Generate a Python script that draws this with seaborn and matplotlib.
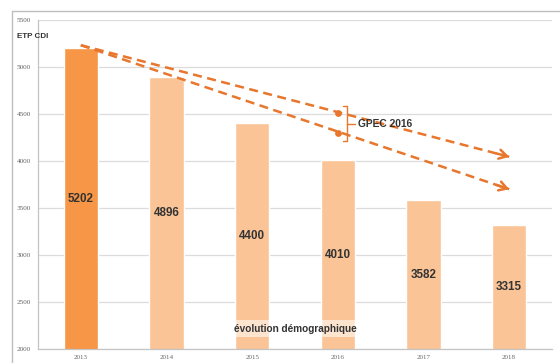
import numpy as np
import pandas as pd
import seaborn as sns
import matplotlib.pyplot as plt
from matplotlib.lines import Line2D

# data
years = ['2013', '2014', '2015', '2016', '2017', '2018']
etp = [5202, 4896, 4400, 4010, 3582, 3315]
bar_colors = ['#F79646', '#FAC496', '#FAC496', '#FAC496', '#FAC496', '#FAC496']

# GPEC 2016 trend lines (start at 2013, end at 2018) and markers at 2016
gpec_start = 5232
gpec_end_high = 4045
gpec_end_low = 3700
gpec_2016 = [4510, 4300]

arrow_c = '#E8762C'
text_c = '#333333'

sns.set_style('white')
plt.rcParams['font.family'] = ['Liberation Sans', 'DejaVu Sans']

df = pd.DataFrame({'year': years, 'etp': etp})

fig = plt.figure(figsize=(5.6, 3.63), dpi=100)
ax = fig.add_axes([38 / 560, 1 - 349 / 363, (552 - 38) / 560, (349 - 20) / 363])

sns.barplot(data=df, x='year', y='etp', hue='year', palette=bar_colors,
            width=0.4, saturation=1, legend=False, ax=ax, zorder=2)

ax.set_ylim(2000, 5500)
ax.set_xlim(-0.5, 5.5)
ax.set_yticks(np.arange(2000, 5501, 500))
ax.grid(axis='y', color='#dcdcdc', lw=0.9, zorder=0)
ax.set_axisbelow(True)
ax.set_xlabel('')
ax.set_ylabel('')

for s in ['top', 'right']:
    ax.spines[s].set_visible(False)
for s in ['left', 'bottom']:
    ax.spines[s].set_color('#c4c4c4')
    ax.spines[s].set_linewidth(0.9)

ax.tick_params(axis='y', length=2, width=0.7, color='#c4c4c4', pad=3,
               labelsize=5.2, labelcolor='#666666')
ax.tick_params(axis='x', which='major', length=0, pad=4,
               labelsize=5, labelcolor='#666666')
ax.set_xticks(np.arange(0.5, 5.6, 1), minor=True)
ax.tick_params(axis='x', which='minor', length=2.5, width=0.7, color='#c4c4c4')
for lab in ax.get_xticklabels() + ax.get_yticklabels():
    lab.set_family('Liberation Serif')

# value labels, centred in the visible part of each bar
for i, v in enumerate(etp):
    ax.text(i, (v + 2000) / 2, str(v), ha='center', va='center',
            fontsize=8.4, fontweight='bold', color=text_c, zorder=5)

# trend arrows
for end in [gpec_end_high, gpec_end_low]:
    ax.plot([0, 5], [gpec_start, end], color=arrow_c, lw=1.8,
            dashes=(3.6, 2.2), zorder=4, solid_capstyle='butt')
    slope = (end - gpec_start) / 5
    ax.annotate('', xy=(5, end), xytext=(4.85, end - 0.15 * slope),
                arrowprops=dict(arrowstyle='->,head_length=0.55,head_width=0.33',
                                color=arrow_c, lw=1.8, shrinkA=0, shrinkB=0),
                zorder=4)

ax.scatter([3, 3], gpec_2016, s=24, color=arrow_c, zorder=5, linewidths=0)

# bracket and label
bx = 3.11
top = gpec_2016[0] + 70
bot = gpec_2016[1] - 90
mid = (top + bot) / 2
ax.plot([bx - 0.05, bx, bx, bx - 0.05], [top, top, bot, bot], color=arrow_c, lw=1, zorder=4)
ax.plot([bx, bx + 0.09], [mid, mid], color=arrow_c, lw=1, zorder=4)
ax.text(bx + 0.13, mid, 'GPEC 2016', ha='left', va='center', fontsize=7.4,
        fontweight='bold', color=text_c, zorder=5)

ax.text(2.5, 2215, 'évolution démographique', ha='center', va='center',
        fontsize=7.2, fontweight='bold', color=text_c, zorder=5,
        bbox=dict(boxstyle='square,pad=0.35', fc='white', ec='none', alpha=0.55))

fig.text(17 / 560, 1 - 37 / 363, 'ETP CDI', ha='left', va='center',
         fontsize=5.8, fontweight='bold', color=text_c)

# outer frame
fig.add_artist(Line2D([12 / 560, 1], [1 - 11 / 363, 1 - 11 / 363],
                      color='#bdbdbd', lw=1))
fig.add_artist(Line2D([12 / 560, 12 / 560], [0, 1 - 11 / 363],
                      color='#bdbdbd', lw=1))

fig.savefig('out.png', dpi=100)
